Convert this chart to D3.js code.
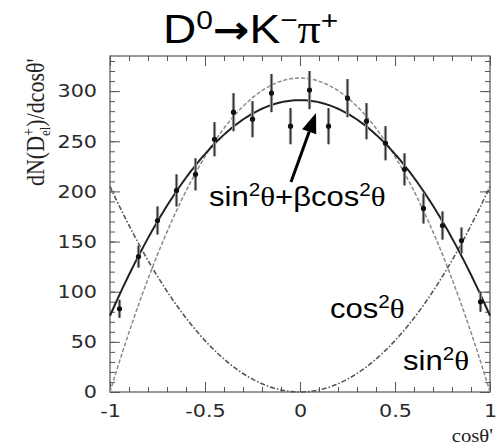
<!DOCTYPE html>
<html>
<head>
<meta charset="utf-8">
<script src="https://cdn.jsdelivr.net/npm/d3@7"></script>
<style>
  html, body { margin: 0; padding: 0; background: #fff; }
  svg { display: block; }
</style>
</head>
<body>
<svg id="chart" width="497" height="448"></svg>
<script>
// Helicity angle distribution of D0 -> K- pi+ decays
const binCenters = [-0.95, -0.85, -0.75, -0.65, -0.55, -0.45, -0.35, -0.25, -0.15, -0.05,
                     0.05,  0.15,  0.25,  0.35,  0.45,  0.55,  0.65,  0.75,  0.85,  0.95];
const counts     = [83, 135, 171, 201, 217, 252, 279, 272, 298, 265,
                    301, 265, 293, 270, 248, 222, 183, 166, 151, 90];
const errors     = [9, 11, 14, 16, 16, 17, 19, 18, 19, 18,
                    19, 18, 19, 18, 17, 16, 15, 14, 13, 10];

// Curve amplitudes: N(c) = a*(1-c^2) + b*c^2
const fitSinAmp = 291, fitCosAmp = 76;   // sin^2 + beta cos^2 fit
const pureSinAmp = 313;                   // pure sin^2
const pureCosAmp = 205;                   // pure cos^2

const xTickValues = [-1, -0.5, 0, 0.5, 1];
const xTickLabels = ["-1", "-0.5", "0", "0.5", "1"];
const yTickValues = [0, 50, 100, 150, 200, 250, 300];
const yTickLabels = ["0", "50", "100", "150", "200", "250", "300"];

const STRETCH = 1.15;
const svg = d3.select("#chart");

const x = d3.scaleLinear().domain([-1, 1]).range([110, 490]);
const y = d3.scaleLinear().domain([0, 335]).range([392, 56]);

const frameColor = "#555";

// widen glyphs horizontally, keeping the anchor point fixed
function stretch(sel) {
  sel.each(function () {
    const t = d3.select(this);
    const x0 = +t.attr("x") || 0;
    t.attr("x", x0 / STRETCH).attr("transform", `scale(${STRETCH},1)`);
  });
}

// frame
svg.append("rect")
  .attr("x", x(-1)).attr("y", y(335))
  .attr("width", x(1) - x(-1)).attr("height", y(0) - y(335))
  .attr("fill", "none").attr("stroke", frameColor).attr("stroke-width", 1.2);

const xMinor = d3.range(-10, 11).map(i => i / 10);
const yMinor = d3.range(0, 34).map(i => i * 10);

function tickAxis(axisFn, scale, values, size, tx, ty) {
  const g = svg.append("g").attr("transform", `translate(${tx},${ty})`)
    .call(axisFn(scale).tickValues(values).tickSize(size).tickFormat(""));
  g.select(".domain").remove();
  g.selectAll("line").attr("stroke", frameColor).attr("stroke-width", 1);
  return g;
}
// bottom / top
tickAxis(d3.axisBottom, x, xMinor, -5, 0, y(0));
tickAxis(d3.axisBottom, x, xTickValues, -10, 0, y(0));
tickAxis(d3.axisTop, x, xMinor, -5, 0, y(335));
tickAxis(d3.axisTop, x, xTickValues, -10, 0, y(335));
// left / right
tickAxis(d3.axisLeft, y, yMinor, -5, x(-1), 0);
tickAxis(d3.axisLeft, y, yTickValues, -10, x(-1), 0);
tickAxis(d3.axisRight, y, yMinor, -5, x(1), 0);
tickAxis(d3.axisRight, y, yTickValues, -10, x(1), 0);

// tick labels
const gx = svg.append("g").attr("transform", `translate(0,${y(0)})`)
  .call(d3.axisBottom(x).tickValues(xTickValues).tickSize(0).tickPadding(12)
    .tickFormat((d, i) => xTickLabels[i]));
gx.select(".domain").remove();
gx.selectAll("text").attr("font-family", "DejaVu Sans").attr("font-size", 18).attr("fill", "#2a2a2a").call(stretch);

const gy = svg.append("g").attr("transform", `translate(${x(-1)},0)`)
  .call(d3.axisLeft(y).tickValues(yTickValues).tickSize(0).tickPadding(13)
    .tickFormat((d, i) => yTickLabels[i]));
gy.select(".domain").remove();
gy.selectAll("text").attr("font-family", "DejaVu Sans").attr("font-size", 18).attr("fill", "#2a2a2a").call(stretch);

// curves
const cs = d3.range(-1, 1.0001, 0.01);
const line = d3.line().x(d => x(d[0])).y(d => y(d[1]));
const plot = svg.append("g");

plot.append("path")
  .attr("d", line(cs.map(c => [c, pureSinAmp * (1 - c * c)])))
  .attr("fill", "none").attr("stroke", "#8a8a8a").attr("stroke-width", 1.5)
  .attr("stroke-dasharray", "4,2");

plot.append("path")
  .attr("d", line(cs.map(c => [c, pureCosAmp * c * c])))
  .attr("fill", "none").attr("stroke", "#555").attr("stroke-width", 1.6)
  .attr("stroke-dasharray", "5,2,1.5,2");

plot.append("path")
  .attr("d", line(cs.map(c => [c, fitSinAmp * (1 - c * c) + fitCosAmp * c * c])))
  .attr("fill", "none").attr("stroke", "#222").attr("stroke-width", 2);

// data points with error bars
const pts = binCenters.map((c, i) => ({ c, n: counts[i], e: errors[i] }));
const pg = plot.append("g");
pg.selectAll("line.err").data(pts).join("line")
  .attr("class", "err")
  .attr("x1", d => x(d.c)).attr("x2", d => x(d.c))
  .attr("y1", d => y(d.n - d.e)).attr("y2", d => y(d.n + d.e))
  .attr("stroke", "#8f8f8f").attr("stroke-width", 3.2);
pg.selectAll("line.errc").data(pts).join("line")
  .attr("class", "errc")
  .attr("x1", d => x(d.c)).attr("x2", d => x(d.c))
  .attr("y1", d => y(d.n - d.e)).attr("y2", d => y(d.n + d.e))
  .attr("stroke", "#333").attr("stroke-width", 1);
pg.selectAll("circle").data(pts).join("circle")
  .attr("cx", d => x(d.c)).attr("cy", d => y(d.n)).attr("r", 2.6)
  .attr("fill", "#111");

// title
const title = svg.append("text")
  .attr("x", 163).attr("y", 43)
  .attr("font-family", "Liberation Sans, Arial, sans-serif").attr("font-size", 40).attr("fill", "#000");
title.append("tspan").text("D");
title.append("tspan").attr("font-size", 26).attr("dy", -14).text("0");
title.append("tspan").attr("font-family", "DejaVu Sans").attr("font-weight", "bold").attr("font-size", 38).attr("dy", 14).text("\u2192");
title.append("tspan").text("K");
title.append("tspan").attr("font-size", 26).attr("dy", -14).text("\u2212");
title.append("tspan").attr("font-family", "Liberation Serif, serif").attr("dy", 14).text("\u03c0");
title.append("tspan").attr("font-size", 26).attr("dy", -14).text("+");
title.call(stretch);

// annotation helper: base text with raised "2" and serif theta
function label(px, py, parts) {
  const t = svg.append("text").attr("x", px).attr("y", py)
    .attr("font-family", "Liberation Sans, Arial, sans-serif").attr("font-size", 27).attr("fill", "#000");
  let raised = false;
  parts.forEach(p => {
    const s = t.append("tspan").text(p.t);
    if (p.sup && !raised) { s.attr("dy", -10).attr("font-size", 18); raised = true; }
    else if (!p.sup && raised) { s.attr("dy", 10); raised = false; }
    if (p.serif) s.attr("font-family", "Liberation Serif, serif");
  });
  t.call(stretch);
  return t;
}
label(209, 206, [{t: "sin"}, {t: "2", sup: true}, {t: "\u03b8", serif: true}, {t: "+\u03b2cos"},
                 {t: "2", sup: true}, {t: "\u03b8", serif: true}]);
label(330, 318, [{t: "cos"}, {t: "2", sup: true}, {t: "\u03b8", serif: true}]);
label(403, 370, [{t: "sin"}, {t: "2", sup: true}, {t: "\u03b8", serif: true}]);

// arrow pointing at the fitted maximum
const tip = [316, 113], tail = [291, 182];
const ang = Math.atan2(tip[1] - tail[1], tip[0] - tail[0]);
const headLen = 20, headW = 7.5;
const bx = tip[0] - headLen * Math.cos(ang), by = tip[1] - headLen * Math.sin(ang);
svg.append("line").attr("x1", tail[0]).attr("y1", tail[1]).attr("x2", bx).attr("y2", by)
  .attr("stroke", "#000").attr("stroke-width", 3);
svg.append("path")
  .attr("d", `M${tip[0]},${tip[1]} L${bx + headW * Math.sin(ang)},${by - headW * Math.cos(ang)} L${bx - headW * Math.sin(ang)},${by + headW * Math.cos(ang)} Z`)
  .attr("fill", "#000");

// axis titles
const yl = svg.append("text")
  .attr("transform", "translate(44,186) scale(1.15,1) rotate(-90)")
  .attr("font-family", "Liberation Serif, serif").attr("font-size", 22).attr("fill", "#222");
yl.append("tspan").text("dN(D");
yl.append("tspan").attr("font-size", 14).attr("dy", -9).text("+");
yl.append("tspan").attr("font-size", 13).attr("dx", -8).attr("dy", 14).text("el");
yl.append("tspan").attr("dy", -5).text(")/dcos\u03b8'");

svg.append("text")
  .attr("x", 493).attr("y", 442).attr("text-anchor", "end")
  .attr("font-family", "Liberation Serif, serif").attr("font-size", 18).attr("fill", "#222")
  .text("cos\u03b8'").call(stretch);
</script>
</body>
</html>
